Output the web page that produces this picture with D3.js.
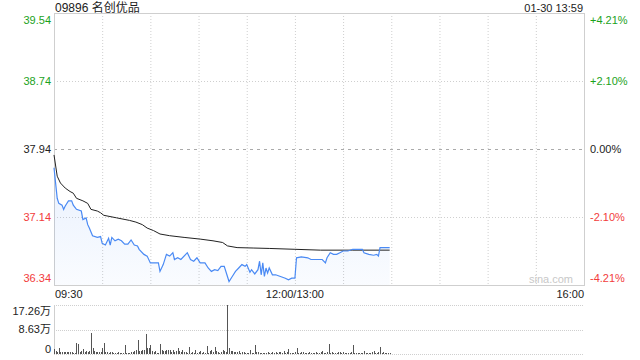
<!DOCTYPE html>
<html>
<head>
<meta charset="utf-8">
<script src="https://cdn.jsdelivr.net/npm/d3@7"></script>
<style>
  html, body { margin: 0; padding: 0; background: #fff; }
  svg { display: block; font-family: Arial, "Liberation Sans", "Noto Sans CJK SC", sans-serif; }
</style>
</head>
<body>
<svg id="chart" width="640" height="360"></svg>
<script>
/* 09896 intraday: price + average line, minute volume below. */
(function () {
  "use strict";

  const TITLE = "09896 名创优品", STAMP = "01-30 13:59";
  const PREV_CLOSE = 37.94;
  const priceTicks = [39.54, 38.74, 37.94, 37.14, 36.34];
  const pctTicks = ["+4.21%", "+2.10%", "0.00%", "-2.10%", "-4.21%"];
  const volTicks = ["17.26万", "8.63万", "0"];
  const volTickVals = [17.26, 8.63, 0];
  const timeTicks = ["09:30", "12:00/13:00", "16:00"];

  // last price by minute (sampled)
  const priceTimes = ["09:30","09:32","09:33","09:35","09:36","09:37","09:39","09:41","09:42","09:44",
    "09:47","09:48","09:50","09:51","09:52","09:54","09:57","09:59","10:00","10:02",
    "10:04","10:05","10:06","10:08","10:10","10:12","10:14","10:16","10:18","10:20",
    "10:22","10:23","10:26","10:28","10:30","10:33","10:35","10:36","10:38","10:40",
    "10:42","10:44","10:45","10:47","10:49","10:53","10:55","10:57","10:59","11:01",
    "11:04","11:06","11:08","11:10","11:12","11:14","11:16","11:18","11:19","11:21",
    "11:23","11:25","11:27","11:29","11:30","11:32","11:33","11:35","11:37","11:38",
    "11:39","11:40","11:41","11:42","11:43","11:44","11:46","11:48","11:51","11:54",
    "11:56","11:58","12:00","13:01","13:04","13:08","13:10","13:14","13:17","13:19",
    "13:20","13:22","13:24","13:26","13:28","13:30","13:33","13:36","13:38","13:42",
    "13:43","13:46","13:49","13:51","13:52","13:53","13:56","13:59"];
  const prices = [37.72,37.36,37.30,37.28,37.23,37.27,37.33,37.33,37.28,37.23,
    37.21,37.11,37.13,37.05,37.01,36.92,36.90,36.91,36.83,36.81,
    36.89,36.81,36.90,36.86,36.88,36.86,36.82,36.82,36.87,36.81,
    36.80,36.76,36.70,36.68,36.60,36.60,36.60,36.50,36.58,36.70,
    36.68,36.72,36.64,36.66,36.64,36.72,36.64,36.62,36.66,36.60,
    36.60,36.54,36.50,36.52,36.51,36.56,36.56,36.44,36.38,36.44,
    36.50,36.54,36.58,36.56,36.58,36.49,36.52,36.47,36.52,36.62,
    36.46,36.60,36.44,36.54,36.48,36.54,36.46,36.46,36.44,36.42,
    36.40,36.42,36.42,36.66,36.67,36.66,36.64,36.64,36.64,36.60,
    36.66,36.72,36.70,36.70,36.72,36.74,36.74,36.76,36.76,36.76,
    36.72,36.70,36.69,36.70,36.68,36.78,36.78,36.78];

  // average price line
  const avgTimes = ["09:30","09:32","09:34","09:37","09:40","09:42","09:44","09:48","09:51","09:53",
    "09:57","09:59","10:01","10:09","10:17","10:21","10:25","10:28","10:32","10:36",
    "10:42","10:51","11:01","11:09","11:15","11:18","11:24","11:34","11:44","12:00",
    "13:16","13:36","13:59"];
  const avgPrices = [37.87,37.62,37.54,37.48,37.44,37.42,37.36,37.33,37.30,37.23,
    37.21,37.19,37.16,37.13,37.10,37.08,37.05,37.01,36.98,36.94,
    36.92,36.90,36.88,36.86,36.84,36.80,36.78,36.775,36.77,36.76,
    36.75,36.75,36.75];

  // volume per minute from 09:30, in 万 shares
  const volumes = [1.76,1.06,0.70,2.11,0.70,0.70,0.70,0.70,0.70,0.70,
    0.70,0.70,0.35,0.35,3.87,3.52,0.70,1.06,1.76,0.70,
    1.06,0.70,1.06,7.40,2.11,1.06,0.70,0.70,0.70,0.70,
    2.11,3.87,0.70,0.70,0.35,0.70,0.70,0.35,0.35,0.35,
    0.70,0.35,0.35,0.35,3.17,0.35,0.35,0.35,0.70,0.70,
    1.06,1.41,4.93,1.06,1.06,1.41,1.41,7.05,2.11,2.11,
    3.17,1.06,0.70,1.06,0.35,0.35,3.52,1.41,1.06,1.06,
    1.41,1.41,1.41,0.70,1.41,0.70,1.06,2.11,1.06,0.70,
    1.41,0.70,0.70,0.35,2.47,0.35,0.70,0.35,1.41,0.35,
    0.70,1.06,0.35,0.70,0.35,2.82,0.35,1.06,1.41,0.70,
    2.47,1.06,0.70,0.35,0.70,1.41,1.06,0.70,17.26,2.11,
    1.06,1.06,0.70,0.70,0.70,1.06,0.35,0.70,0.70,0.35,
    0.35,0.35,1.41,0.35,0.35,3.17,0.70,0.70,0.35,0.35,
    0.35,0.35,0.35,0.70,0.35,0.35,0.70,0.35,0.70,0.35,
    0.70,0.70,0.35,1.06,0.35,0.70,1.76,0.35,0.35,0.35,
    0.70,2.11,0.35,0.35,0.70,0.70,0.35,0.35,0.35,0.70,
    0.35,0.35,0.35,0.70,0.35,0.35,0.70,1.06,0.35,0.35,
    0.70,3.52,0.35,0.70,0.35,0.35,0.35,0.70,0.70,0.35,
    0.70,0.35,0.35,0.35,0.35,0.70,3.17,0.35,0.35,0.35,
    0.35,0.35,0.35,1.06,0.35,0.35,0.35,0.35,0.70,1.06,
    0.35,0.35,0.70,2.47,0.35,0.70,0.35,0.35,0.35,0.35];

  const GREEN = "#1ba21b", RED = "#f23c3c", BLUE = "#4a8af4", GRID = "#cfcfcf", BORDER = "#cfcfcf";

  // minutes since open, lunch break folded out (12:00 == 13:00)
  function idx(t) {
    const [h, m] = t.split(":").map(Number), v = h * 60 + m;
    return v <= 720 ? v - 570 : v - 780 + 150;
  }

  const L = 54, R = 584, T = 13, B = 285, VT = 305, VB = 354;
  const svg = d3.select("#chart");
  const x = d3.scaleLinear().domain([0, 330]).range([L, R]);
  const y = d3.scaleLinear().domain([36.34, 39.54]).range([B, T]);
  const yv = d3.scaleLinear().domain([0, 17.26]).range([VB, VT]);

  const defs = svg.append("defs");
  const grad = defs.append("linearGradient").attr("id", "fillg").attr("x1", 0).attr("y1", 0).attr("x2", 0).attr("y2", 1);
  grad.append("stop").attr("offset", "0%").attr("stop-color", BLUE).attr("stop-opacity", 0.12);
  grad.append("stop").attr("offset", "100%").attr("stop-color", BLUE).attr("stop-opacity", 0.03);

  // gridlines
  const vTicks = d3.range(30, 330, 30);
  svg.append("g").selectAll("line").data(vTicks).join("line")
    .attr("x1", (d) => x(d) + 0.5).attr("x2", (d) => x(d) + 0.5).attr("y1", T).attr("y2", B)
    .attr("stroke", GRID).attr("stroke-dasharray", "1,2");
  svg.append("g").selectAll("line").data(priceTicks.slice(1, 4)).join("line")
    .attr("x1", L).attr("x2", R).attr("y1", (d) => Math.round(y(d)) + 0.5).attr("y2", (d) => Math.round(y(d)) + 0.5)
    .attr("stroke", (d) => (d === PREV_CLOSE ? "#aaa" : GRID))
    .attr("stroke-dasharray", (d) => (d === PREV_CLOSE ? "3,4" : "1,2"));

  // frame
  svg.append("rect").attr("x", L + 0.5).attr("y", T + 0.5).attr("width", R - L).attr("height", B - T)
    .attr("fill", "none").attr("stroke", BORDER);

  // price area + line, avg line
  const pts = priceTimes.map((t, i) => ({ i: idx(t), p: prices[i] }));
  const area = d3.area().x((d) => x(d.i)).y0(B).y1((d) => y(d.p));
  const line = d3.line().x((d) => x(d.i)).y((d) => y(d.p));
  svg.append("path").datum(pts).attr("fill", "url(#fillg)").attr("d", area);
  const apts = avgTimes.map((t, i) => ({ i: idx(t), p: avgPrices[i] }));
  svg.append("path").datum(apts).attr("fill", "none").attr("stroke", "#222").attr("stroke-width", 1).attr("d", line);
  svg.append("path").datum(pts).attr("fill", "none").attr("stroke", BLUE).attr("stroke-width", 1.2).attr("d", line);

  svg.append("text").attr("x", 573).attr("y", 279).attr("dy", "0.35em").attr("text-anchor", "end")
    .attr("fill", "#c8c8c8").attr("font-size", 11).text("sina.com");

  // axis labels
  const labY = (v) => Math.min(Math.max(y(v), 20), 278);
  const tickColor = (v) => (v > PREV_CLOSE ? GREEN : v < PREV_CLOSE ? RED : "#222");
  svg.append("g").selectAll("text").data(priceTicks).join("text")
    .attr("x", 51).attr("y", labY).attr("dy", "0.35em").attr("text-anchor", "end")
    .attr("font-size", 11).attr("fill", tickColor).text((d) => d.toFixed(2));
  svg.append("g").selectAll("text").data(priceTicks).join("text")
    .attr("x", 590).attr("y", labY).attr("dy", "0.35em")
    .attr("font-size", 11).attr("fill", tickColor).text((d, i) => pctTicks[i]);

  svg.append("g").selectAll("text").data([0, 150, 330]).join("text")
    .attr("x", (d) => x(d) + (d === 0 ? 1 : 0)).attr("y", 294).attr("dy", "0.35em")
    .attr("text-anchor", (d, i) => ["start", "middle", "end"][i])
    .attr("font-size", 11).attr("fill", "#222").text((d, i) => timeTicks[i]);

  svg.append("text").attr("x", 55).attr("y", 8).attr("dy", "0.35em").attr("font-size", 12)
    .attr("fill", "#222").text(TITLE);
  svg.append("text").attr("x", 583).attr("y", 8).attr("dy", "0.35em").attr("text-anchor", "end")
    .attr("font-size", 11).attr("fill", "#222").text(STAMP);

  // volume panel
  svg.append("g").selectAll("line").data(volTickVals).join("line")
    .attr("x1", L).attr("x2", R).attr("y1", (d) => Math.round(yv(d)) + 0.5).attr("y2", (d) => Math.round(yv(d)) + 0.5)
    .attr("stroke", GRID).attr("stroke-dasharray", "1,1");
  svg.append("line").attr("x1", L + 0.5).attr("x2", L + 0.5).attr("y1", VT).attr("y2", VB)
    .attr("stroke", BORDER);
  svg.append("g").selectAll("rect").data(volumes).join("rect")
    .attr("x", (d, i) => Math.round(x(i))).attr("width", 1)
    .attr("y", (d) => yv(d)).attr("height", (d) => VB - yv(d)).attr("fill", "#555");
  const vLabY = [311, 329, 349];
  svg.append("g").selectAll("text").data(volTicks).join("text")
    .attr("x", 51).attr("y", (d, i) => vLabY[i]).attr("dy", "0.35em").attr("text-anchor", "end")
    .attr("font-size", 11).attr("fill", "#222").text((d) => d);
})();
</script>
</body>
</html>
